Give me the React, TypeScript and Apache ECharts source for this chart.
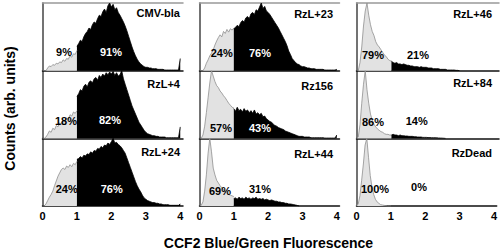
import React, { useEffect, useRef } from 'react';
import * as echarts from 'echarts';

// ---------- data ----------
const BIN = 0.05; // histogram bin width (CCF2 ratio units)
const SPLIT = 1; // gate between low (grey) and high (black) populations
const xTicks = [0, 1, 2, 3, 4];

const panelNames = ['CMV-bla', 'RzL+23', 'RzL+46', 'RzL+4', 'Rz156', 'RzL+84', 'RzL+24', 'RzL+44', 'RzDead'];
const lowPct = ['9%', '24%', '79%', '18%', '57%', '86%', '24%', '69%', '100%'];
const highPct = ['91%', '76%', '21%', '82%', '43%', '14%', '76%', '31%', '0%'];

// counts (arb. units, % of panel peak), bins from 0 to 1
const cmvLow = [0, 0, 0, 4, 7, 6, 9, 8, 11, 10, 13, 12, 16, 14, 18, 17, 22, 20, 25, 24, 30];
// bins from 1 to 4
const cmvHigh = [36, 40, 45, 43, 50, 55, 58, 63, 61, 68, 72, 70, 77, 82, 80, 87, 91, 86, 96, 100,
  94, 98, 90, 93, 86, 82, 77, 72, 66, 59, 51, 43, 35, 28, 22, 17, 13, 10, 8, 6,
  5, 5, 4, 4, 3, 3, 3, 2, 2, 2, 2, 1, 1, 1, 1, 1, 1, 1, 1, 1,
  18];

const rzl23Low = [0, 0, 0, 4, 11, 16, 22, 26, 31, 38, 44, 49, 53, 50, 58, 55, 61, 57, 62, 60, 63];
const rzl23High = [62, 64, 67, 65, 71, 74, 72, 78, 80, 77, 84, 86, 83, 90, 88, 94, 100, 92, 95, 88,
  86, 83, 79, 75, 71, 67, 63, 58, 53, 48, 43, 37, 29, 24, 18, 15, 12, 10, 9, 7,
  6, 6, 5, 4, 4, 3, 3, 3, 2, 2, 2, 2, 2, 1, 1, 1, 1, 1, 1, 1,
  2];

const rzl46Low = [0, 0, 12, 35, 66, 88, 100, 82, 68, 58, 52, 43, 38, 35, 31, 27, 23, 21, 17, 15, 14];
const rzl46High = [14, 12, 11, 12, 10, 10, 9, 10, 9, 8, 8, 7, 7, 6, 6, 6, 5, 6, 5, 5,
  5, 4, 4, 4, 3, 3, 3, 3, 2, 2, 2, 2, 1, 1, 1, 1, 1, 0.5, 0.5, 0];

const rzl4Low = [0, 0, 2, 6, 11, 9, 15, 13, 19, 17, 23, 21, 27, 25, 30, 28, 35, 33, 39, 37, 41];
const rzl4High = [62, 66, 72, 70, 77, 80, 76, 83, 85, 82, 88, 90, 86, 93, 90, 95, 92, 97, 94, 98,
  95, 99, 93, 97, 92, 94, 100, 88, 80, 72, 64, 56, 48, 42, 36, 30, 24, 20, 16, 12,
  9, 7, 6, 5, 4, 4, 3, 3, 2, 2, 2, 2, 1, 1, 1, 1, 1, 1, 1, 1,
  17];

const rz156Low = [0, 0, 5, 18, 38, 60, 82, 100, 92, 84, 78, 75, 70, 67, 63, 60, 56, 52, 49, 46, 45];
const rz156High = [44, 40, 46, 41, 43, 39, 44, 40, 42, 38, 41, 37, 42, 36, 38, 35, 37, 32, 33, 29,
  27, 25, 24, 21, 19, 18, 16, 15, 14, 13, 11, 10, 9, 8, 7, 6, 5, 4, 3, 3,
  3, 2, 2, 2, 2, 1, 1, 1, 1, 1, 1, 1, 1, 0.5, 0.5, 0.5, 0.5, 0.5, 0.5, 0.5,
  5];

const rzl84Low = [0, 2, 20, 52, 80, 100, 72, 52, 36, 27, 21, 17, 14, 12, 10, 9, 7, 6, 6, 5, 5];
const rzl84High = [5, 6, 5, 5, 4, 5, 4, 4, 3.5, 3.5, 3, 3, 3, 2.5, 2.5, 2, 2, 2, 1.5, 1.5,
  1.5, 1.2, 1.2, 1, 1, 1, 0.8, 0.6, 0.5, 0.4, 0.2, 0];

const rzl24Low = [0, 0, 3, 8, 13, 17, 22, 30, 37, 44, 49, 54, 56, 54, 59, 57, 61, 58, 63, 61, 66];
const rzl24High = [69, 70, 73, 71, 75, 74, 77, 76, 80, 78, 82, 81, 85, 84, 88, 86, 90, 89, 93, 91,
  95, 100, 93, 94, 91, 89, 86, 82, 78, 71, 64, 57, 50, 43, 36, 30, 25, 21, 16, 12,
  10, 8, 7, 6, 5, 5, 4, 4, 3, 3, 2, 2, 2, 2, 1, 1, 1, 1, 1, 1,
  3];

const rzl44Low = [0, 1, 6, 22, 46, 78, 100, 80, 56, 46, 38, 34, 30, 27, 24, 21, 19, 17, 16, 15, 14];
const rzl44High = [11, 12, 10, 13, 11, 12, 10, 13, 11, 12, 10, 12, 11, 13, 10, 11, 10, 11, 9, 10,
  9, 8, 9, 8, 7, 7, 6, 6, 5, 5, 4, 4, 3, 3, 2.5, 2, 1.5, 0.8, 0];

const rzDeadLow = [0, 3, 15, 38, 62, 90, 100, 72, 45, 28, 17, 10, 6, 4, 2, 1.5, 1, 0.5, 0, 0, 0];
const rzDeadHigh: number[] = [];

const lowData = [cmvLow, rzl23Low, rzl46Low, rzl4Low, rz156Low, rzl84Low, rzl24Low, rzl44Low, rzDeadLow];
const highData = [cmvHigh, rzl23High, rzl46High, rzl4High, rz156High, rzl84High, rzl24High, rzl44High, rzDeadHigh];

// ---------- layout ----------
const FONT = 'Arial, "Liberation Sans", Helvetica, sans-serif';
const colLeft = [42.5, 199.5, 356.5];
const colWidth = [140.5, 140, 142.5];
const rowTop = [3, 70.7, 138.3];
const rowHeight = 67.7;
const X_MAX = 4.08;

const nameRight = [180, 333, 492];
const nameY = [[13, 14, 14], [84, 86, 82.5], [152, 154, 152.5]];
// [lowX, lowY, highX, highY] per panel
const pctPos = [
  [64, 52, 111, 52], [221.7, 52.5, 260, 52.5], [373, 55, 418, 55],
  [66, 121, 110, 119.5], [221, 128, 260, 128], [373, 122, 416.7, 121],
  [66.7, 189, 111.7, 188.5], [220, 191, 260, 189], [375, 189, 419, 187],
];
const highTextColor = ['#fff', '#fff', '#000', '#fff', '#fff', '#000', '#fff', '#000', '#000'];

export default function App() {
  const ref = useRef<HTMLDivElement>(null);

  useEffect(() => {
    if (!ref.current) return;
    const chart = echarts.init(ref.current, undefined, { renderer: 'svg' });

    const grids: any[] = [];
    const xAxes: any[] = [];
    const yAxes: any[] = [];
    const series: any[] = [];
    const graphic: any[] = [];

    for (let i = 0; i < 9; i++) {
      const r = Math.floor(i / 3);
      const c = i % 3;
      grids.push({ left: colLeft[c], top: rowTop[r], width: colWidth[c], height: rowHeight });
      xAxes.push({
        type: 'value', gridIndex: i, min: 0, max: X_MAX, interval: 1,
        axisLine: { show: true, onZero: false, lineStyle: { color: '#111', width: 1.5 } },
        axisTick: { show: false },
        splitLine: { show: false },
        axisLabel: {
          show: r === 2, margin: 4, color: '#000', fontFamily: FONT, fontWeight: 'bold', fontSize: 11,
          formatter: (v: number) => (xTicks.includes(v) ? String(v) : ''),
        },
      });
      yAxes.push({
        type: 'value', gridIndex: i, min: 0, max: 100,
        axisLine: { show: true, lineStyle: { color: '#444', width: 1.5 } },
        axisTick: { show: false }, axisLabel: { show: false }, splitLine: { show: false },
      });
      series.push({
        type: 'line', xAxisIndex: xAxes.length - 1, yAxisIndex: i, symbol: 'none', silent: true,
        data: lowData[i].map((v, k) => [k * BIN, v]),
        lineStyle: { color: '#8f8f8f', width: 0.8 },
        areaStyle: { color: '#e2e2e2', opacity: 1 },
      });
      if (highData[i].length) {
        series.push({
          type: 'line', xAxisIndex: xAxes.length - 1, yAxisIndex: i, symbol: 'none', silent: true,
          data: highData[i].map((v, k) => [SPLIT + k * BIN, v]),
          lineStyle: { color: '#000', width: 0.8 },
          areaStyle: { color: '#000', opacity: 1 },
        });
      }
      if (r === 0) {
        xAxes.push({
          type: 'value', gridIndex: i, min: 0, max: X_MAX, position: 'top',
          axisLine: { show: true, onZero: false, lineStyle: { color: '#999', width: 1.5 } },
          axisTick: { show: false }, axisLabel: { show: false }, splitLine: { show: false },
        });
      }

      graphic.push({
        type: 'text', x: nameRight[c], y: nameY[r][c], silent: true, z: 100,
        style: { text: panelNames[i], align: 'right', verticalAlign: 'middle', fill: '#000', font: `bold 11px ${FONT}` },
      });
      const p = pctPos[i];
      graphic.push({
        type: 'text', x: p[0], y: p[1], silent: true, z: 100,
        style: { text: lowPct[i], align: 'center', verticalAlign: 'middle', fill: '#000', font: `bold 11px ${FONT}` },
      });
      graphic.push({
        type: 'text', x: p[2], y: p[3], silent: true, z: 100,
        style: { text: highPct[i], align: 'center', verticalAlign: 'middle', fill: highTextColor[i], font: `bold 11px ${FONT}` },
      });
    }

    graphic.push({
      type: 'text', x: 268.5, y: 243, silent: true, z: 100,
      style: { text: 'CCF2 Blue/Green Fluorescence', align: 'center', verticalAlign: 'middle', fill: '#000', font: `bold 14px ${FONT}` },
    });
    graphic.push({
      type: 'text', x: 10, y: 108.5, rotation: Math.PI / 2, silent: true, z: 100,
      style: { text: 'Counts (arb. units)', align: 'center', verticalAlign: 'middle', fill: '#000', font: `bold 14px ${FONT}` },
    });

    chart.setOption({
      animation: false,
      backgroundColor: '#fff',
      grid: grids,
      xAxis: xAxes,
      yAxis: yAxes,
      series,
      graphic: { elements: graphic, z: 100 } as any,
    });

    return () => chart.dispose();
  }, []);

  return <div ref={ref} style={{ position: 'fixed', left: 0, top: 0, width: 500, height: 250 }} />;
}
